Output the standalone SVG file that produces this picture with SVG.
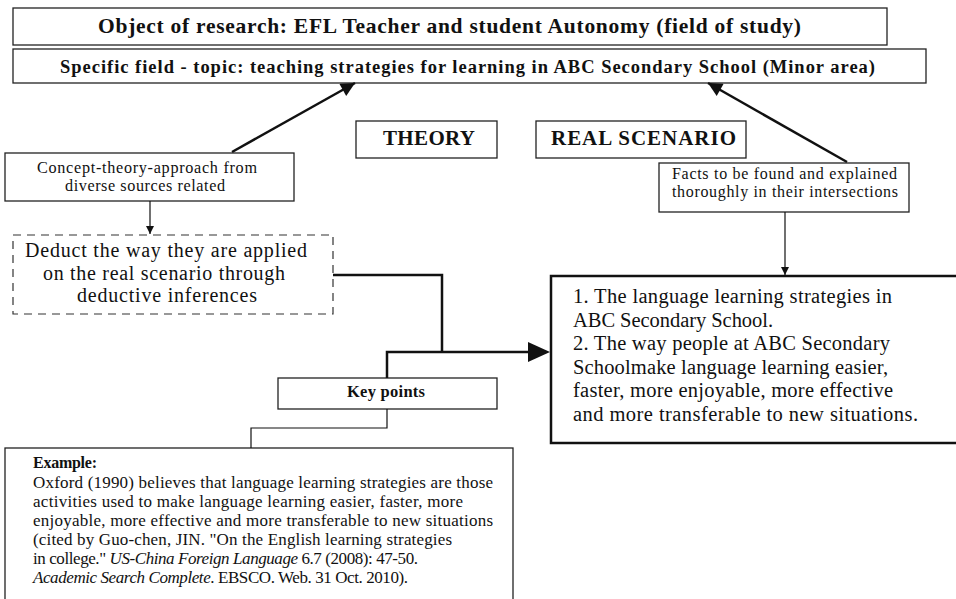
<svg xmlns="http://www.w3.org/2000/svg" width="956" height="599" viewBox="0 0 956 599">
<style>
text { font-family: "Liberation Serif", "Times New Roman", serif; fill: #111; }
.b { font-weight: bold; }
.box { fill: #fff; stroke: #222; stroke-width: 1.3; }
.thick { fill: #fff; stroke: #111; stroke-width: 2.5; }
.dash { fill: #fff; stroke: #333; stroke-width: 1.2; stroke-dasharray: 8 6; }
.conn { fill: none; stroke: #111; }
</style>
<defs>
<marker id="ah" viewBox="0 0 10 10" refX="10" refY="5" markerWidth="16" markerHeight="14" orient="auto" markerUnits="userSpaceOnUse">
<path d="M0,0 L10,5 L0,10 z" fill="#111"/>
</marker>
<marker id="sm" viewBox="0 0 10 10" refX="10" refY="5" markerWidth="9" markerHeight="8" orient="auto" markerUnits="userSpaceOnUse">
<path d="M0,0 L10,5 L0,10 z" fill="#111"/>
</marker>
</defs>

<g id="object">
<rect class="box" x="13" y="8" width="874" height="37"/>
<text class="b" x="98" y="33" font-size="21.5" textLength="703">Object of research: EFL Teacher and student Autonomy (field of study)</text>
</g>

<g id="topic">
<rect class="box" x="13" y="49" width="913" height="34"/>
<text class="b" x="60" y="73" font-size="18.5" textLength="815">Specific field - topic: teaching strategies for learning in ABC Secondary School (Minor area)</text>
</g>

<g id="theory">
<rect class="box" x="356" y="121" width="141" height="37"/>
<text class="b" x="383" y="145" font-size="21" textLength="92">THEORY</text>
</g>

<g id="real-scenario">
<rect class="box" x="536" y="121" width="210" height="37"/>
<text class="b" x="551" y="145" font-size="21" textLength="185">REAL SCENARIO</text>
</g>

<g id="concept">
<rect class="box" x="5" y="153" width="289" height="48"/>
<text x="37" y="173" font-size="16.2" textLength="220">Concept-theory-approach from</text>
<text x="65" y="191" font-size="16.2" textLength="160">diverse sources related</text>
</g>

<g id="facts">
<rect class="box" x="659" y="163" width="250" height="49"/>
<text x="672" y="179" font-size="16" textLength="225">Facts to be found and explained</text>
<text x="672" y="197" font-size="16" textLength="226">thoroughly in their intersections</text>
</g>

<g id="deduct">
<rect class="dash" x="13" y="235" width="320" height="79"/>
<text x="25" y="257" font-size="20" textLength="282">Deduct the way they are applied</text>
<text x="43" y="279.5" font-size="20" textLength="242">on the real scenario through</text>
<text x="77" y="302" font-size="20" textLength="180">deductive inferences</text>
</g>

<g id="key-points">
<rect class="box" x="278" y="378" width="219" height="31"/>
<text class="b" x="347" y="397" font-size="16.5" textLength="78">Key points</text>
</g>

<g id="results">
<rect class="thick" x="551" y="276" width="420" height="167"/>
<text x="573" y="303" font-size="20.5" textLength="319">1. The language learning strategies in</text>
<text x="573" y="326.5" font-size="20.5" textLength="200">ABC Secondary School.</text>
<text x="573" y="350" font-size="20.5" textLength="317">2. The way people at ABC Secondary</text>
<text x="573" y="373.5" font-size="20.5" textLength="315">Schoolmake language learning easier,</text>
<text x="573" y="397" font-size="20.5" textLength="320">faster, more enjoyable, more effective</text>
<text x="573" y="420.5" font-size="20.5" textLength="345">and more transferable to new situations.</text>
</g>

<g id="example">
<rect class="box" x="5" y="448" width="508" height="200"/>
<text class="b" x="33" y="468" font-size="16" textLength="64">Example:</text>
<text x="33" y="488" font-size="17" textLength="460">Oxford (1990) believes that language learning strategies are those</text>
<text x="33" y="507" font-size="17" textLength="430">activities used to make language learning easier, faster, more</text>
<text x="33" y="526" font-size="17" textLength="460">enjoyable, more effective and more transferable to new situations</text>
<text x="33" y="545" font-size="17" textLength="419">(cited by Guo-chen, JIN. "On the English learning strategies</text>
<text x="33" y="564" font-size="17" textLength="385">in college." <tspan font-style="italic">US-China Foreign Language</tspan> 6.7 (2008): 47-50.</text>
<text x="33" y="583" font-size="17" textLength="375"><tspan font-style="italic">Academic Search Complete</tspan>. EBSCO. Web. 31 Oct. 2010).</text>
</g>

<g id="connectors">
<line class="conn" stroke-width="2.5" x1="232" y1="152" x2="355" y2="83" marker-end="url(#ah)"/>
<line class="conn" stroke-width="2.5" x1="847" y1="162" x2="708" y2="83" marker-end="url(#ah)"/>
<line class="conn" stroke-width="1.2" x1="150" y1="201" x2="150" y2="234" marker-end="url(#sm)"/>
<line class="conn" stroke-width="1.2" x1="785" y1="212" x2="785" y2="275" marker-end="url(#sm)"/>
<path class="conn" stroke-width="2.5" d="M333,275 H442 V352"/>
<path class="conn" stroke-width="2.5" d="M387,378 V352 H530"/>
<polygon points="528,342 550,352 528,362" fill="#111"/>
<path class="conn" stroke-width="1.2" d="M387,409 V428 H251 V448"/>
</g>
</svg>
